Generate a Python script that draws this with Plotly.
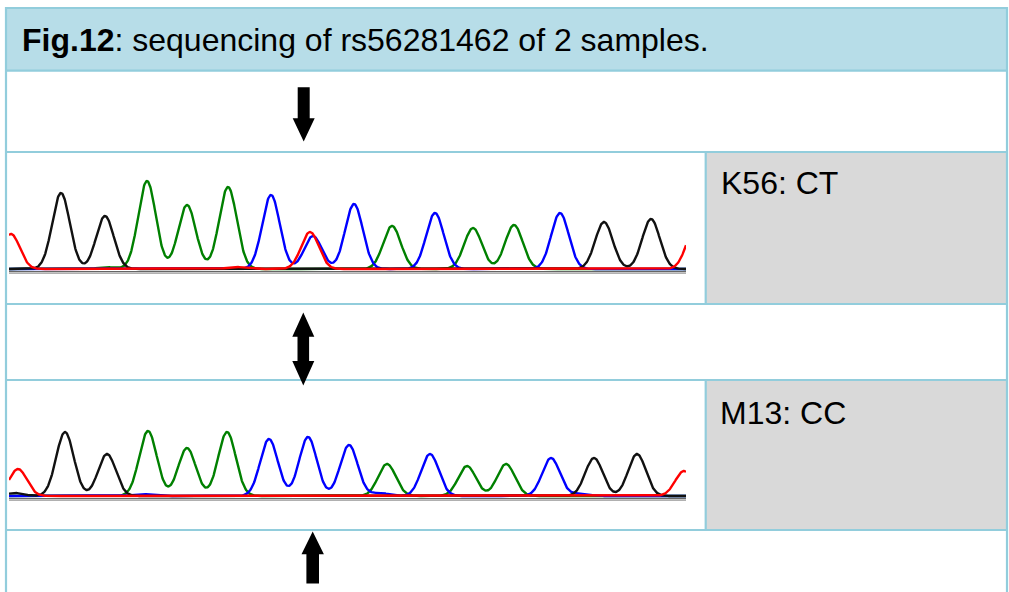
import numpy as np
import plotly.graph_objects as go

W, H = 1009, 592

# ---------------- text ----------------
title_bold = "Fig.12"
title_rest = ": sequencing of rs56281462 of 2 samples."
sample_labels = ["K56: CT", "M13: CC"]

# ---------------- chromatogram peaks (scan position, height) ----------------
# sample K56
k56_black_pos = [61, 105, 604, 651]
k56_black_ht = [76, 53, 47, 50]
k56_green_pos = [107, 147, 187, 228, 392, 473, 514]
k56_green_ht = [2, 88, 64, 82, 43, 41, 44]
k56_blue_pos = [271, 313, 354, 435, 560]
k56_blue_ht = [74, 33, 65, 56, 56]
k56_red_pos = [11, 236, 310, 695]
k56_red_ht = [35, 2, 37, 40]

# sample M13
m13_black_pos = [15, 65, 107, 594, 637]
m13_black_ht = [3, 64, 42, 38, 42]
m13_green_pos = [148, 187, 227, 387, 467, 506]
m13_green_ht = [65, 48, 64, 32, 30, 32]
m13_blue_pos = [143, 269, 308, 349, 380, 430, 551, 580]
m13_blue_ht = [2, 57, 59, 51, 3, 42, 38, 2.5]
m13_red_pos = [18, 684]
m13_red_ht = [27, 25]

SCAN_START, SCAN_END = 9, 686
PEAK_SIGMA = 8.8

DYE_COLORS = {"green": "#008000", "blue": "#0000FF", "black": "#111111", "red": "#FF0000"}

BORDER = "#92CDDC"
HEADER_FILL = "#B7DDE8"
GRAY_FILL = "#D9D9D9"
FONT = "Liberation Sans, Arial, sans-serif"


def curve(pos, ht, x):
    y = np.zeros_like(x)
    for p, h in zip(pos, ht):
        y += h * np.exp(-0.5 * ((x - p) / PEAK_SIGMA) ** 2)
    return y


def py(v):
    return 1 - v / H


fig = go.Figure()

# invisible trace to create the page-level (pixel) axis
fig.add_trace(go.Scatter(x=[0, W], y=[0, H], mode="markers",
                         marker=dict(opacity=0), hoverinfo="skip",
                         showlegend=False, xaxis="x", yaxis="y"))

scan = np.linspace(SCAN_START, SCAN_END, 1400)

samples = [
    ("x2", "y2", {"green": (k56_green_pos, k56_green_ht), "blue": (k56_blue_pos, k56_blue_ht),
                  "black": (k56_black_pos, k56_black_ht), "red": (k56_red_pos, k56_red_ht)}),
    ("x3", "y3", {"green": (m13_green_pos, m13_green_ht), "blue": (m13_blue_pos, m13_blue_ht),
                  "black": (m13_black_pos, m13_black_ht), "red": (m13_red_pos, m13_red_ht)}),
]

for xa, ya, dyes in samples:
    for dye in ["green", "blue", "black", "red"]:
        pos, ht = dyes[dye]
        fig.add_trace(go.Scatter(x=scan, y=curve(pos, ht, scan), mode="lines",
                                 line=dict(color=DYE_COLORS[dye], width=2.4),
                                 hoverinfo="skip", showlegend=False,
                                 xaxis=xa, yaxis=ya))

shapes = []

# cell fills
shapes.append(dict(type="rect", xref="x", yref="y", x0=6, x1=1007, y0=8, y1=70.7,
                   fillcolor=HEADER_FILL, line=dict(width=0), layer="below"))
for (a, b) in [(152, 304), (380, 530)]:
    shapes.append(dict(type="rect", xref="x", yref="y", x0=705.7, x1=1007, y0=a, y1=b,
                       fillcolor=GRAY_FILL, line=dict(width=0), layer="below"))

# borders
for yy in [8, 70.7, 152, 304, 380, 530]:
    shapes.append(dict(type="line", xref="x", yref="y", x0=5, x1=1008, y0=yy, y1=yy,
                       line=dict(color=BORDER, width=2.2), layer="below"))
for xx in [6, 1007]:
    shapes.append(dict(type="line", xref="x", yref="y", x0=xx, x1=xx, y0=7, y1=600,
                       line=dict(color=BORDER, width=2.2), layer="below"))
for (a, b) in [(152, 304), (380, 530)]:
    shapes.append(dict(type="line", xref="x", yref="y", x0=705.7, x1=705.7, y0=a, y1=b,
                       line=dict(color=BORDER, width=2.2), layer="below"))

# grey reference lines below chromatogram baselines
for xa, ya in [("x2", "y2"), ("x3", "y3")]:
    shapes.append(dict(type="line", xref=xa, yref=ya, x0=SCAN_START, x1=SCAN_END, y0=-2.6, y1=-2.6,
                       line=dict(color="#666666", width=1.2), layer="below"))
    shapes.append(dict(type="line", xref=xa, yref=ya, x0=SCAN_START, x1=SCAN_END, y0=-4.2, y1=-4.2,
                       line=dict(color="#B0B0B0", width=1.5), layer="below"))


def down_arrow(cx, top, head_base, tip, shw=6, hhw=11):
    return (f"M {cx-shw},{top} L {cx+shw},{top} L {cx+shw},{head_base} L {cx+hhw},{head_base} "
            f"L {cx},{tip} L {cx-hhw},{head_base} L {cx-shw},{head_base} Z")


def up_arrow(cx, tip, head_base, bottom, shw=6.3, hhw=11.2):
    return (f"M {cx},{tip} L {cx+hhw},{head_base} L {cx+shw},{head_base} L {cx+shw},{bottom} "
            f"L {cx-shw},{bottom} L {cx-shw},{head_base} L {cx-hhw},{head_base} Z")


def double_arrow(cx, tip1, base1, base2, tip2, shw=5.8, hhw=11):
    return (f"M {cx},{tip1} L {cx+hhw},{base1} L {cx+shw},{base1} L {cx+shw},{base2} "
            f"L {cx+hhw},{base2} L {cx},{tip2} L {cx-hhw},{base2} L {cx-shw},{base2} "
            f"L {cx-shw},{base1} L {cx-hhw},{base1} Z")


for path in [down_arrow(303.7, 87.3, 118.3, 141.5),
             double_arrow(303.3, 312.5, 336.7, 361, 385.5),
             up_arrow(312.7, 531.5, 554.3, 583.5)]:
    shapes.append(dict(type="path", xref="x", yref="y", path=path,
                       fillcolor="#000000", line=dict(width=0), layer="above"))

annotations = [
    dict(xref="x", yref="y", x=19.5, y=39.5, xanchor="left", yanchor="middle",
         text=f"<b>{title_bold}</b>{title_rest}", showarrow=False,
         font=dict(family=FONT, size=32, color="#000000")),
    dict(xref="x", yref="y", x=718.5, y=183.3, xanchor="left", yanchor="middle",
         text=sample_labels[0], showarrow=False,
         font=dict(family=FONT, size=32, color="#000000")),
    dict(xref="x", yref="y", x=718.3, y=413.3, xanchor="left", yanchor="middle",
         text=sample_labels[1], showarrow=False,
         font=dict(family=FONT, size=32, color="#000000")),
]

hidden = dict(visible=False, showgrid=False, zeroline=False, fixedrange=True)

fig.update_layout(
    width=W, height=H,
    margin=dict(l=0, r=0, t=0, b=0, pad=0),
    paper_bgcolor="#FFFFFF", plot_bgcolor="rgba(0,0,0,0)",
    showlegend=False,
    xaxis=dict(domain=[0, 1], range=[0, W], **hidden),
    yaxis=dict(domain=[0, 1], range=[H, 0], **hidden),
    xaxis2=dict(domain=[SCAN_START / W, SCAN_END / W], range=[SCAN_START, SCAN_END], anchor="y2", **hidden),
    yaxis2=dict(domain=[py(280), py(160)], range=[-11, 109], anchor="x2", **hidden),
    xaxis3=dict(domain=[SCAN_START / W, SCAN_END / W], range=[SCAN_START, SCAN_END], anchor="y3", **hidden),
    yaxis3=dict(domain=[py(507), py(390)], range=[-11, 106], anchor="x3", **hidden),
    shapes=shapes,
    annotations=annotations,
)

fig.write_html("out.html", config={"displayModeBar": False})
